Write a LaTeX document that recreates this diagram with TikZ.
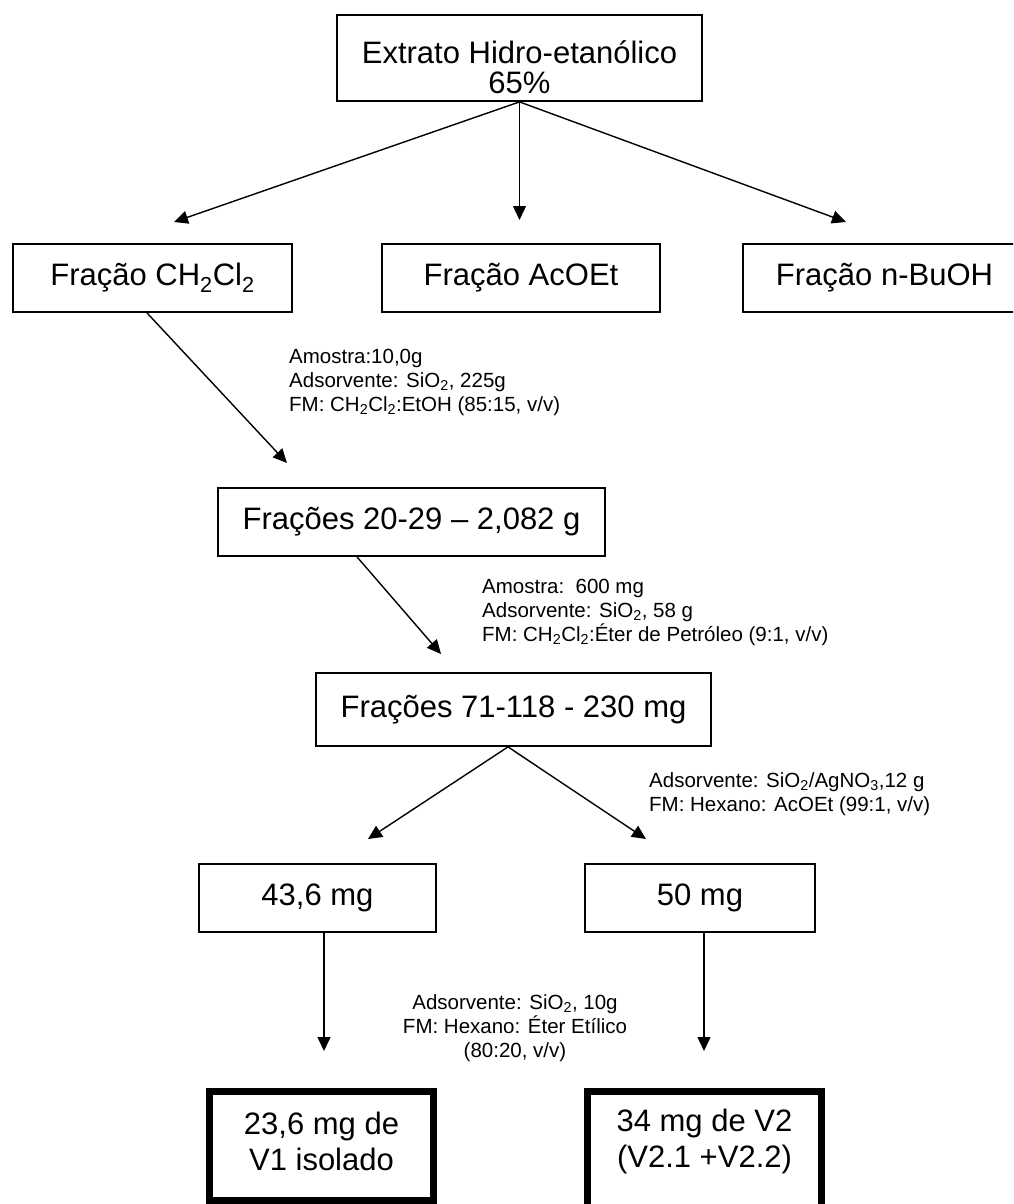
\documentclass[tikz,border=0pt]{standalone}
\usepackage{fontspec}
\setmainfont{Liberation Sans}
\usetikzlibrary{arrows.meta}
\begin{document}
\begin{tikzpicture}[x=1pt,y=-1pt,
  box/.style={draw, line width=1.8pt, inner sep=0pt, font=\fontsize{31}{30}\selectfont, align=center},
  boldbox/.style={draw, line width=7pt, inner sep=0pt},
  big/.style={font=\fontsize{31}{36}\selectfont, align=center, inner sep=0pt},
  note/.style={font=\fontsize{20.5}{24}\selectfont, inner sep=0pt},
  flow/.style={line width=1.4pt, -{Triangle[length=14pt,width=13pt]}}]
\useasboundingbox (0,0) rectangle (1013,1204);
\clip (0,0) rectangle (1013,1204);

% starting extract
\node[box, minimum width=365, minimum height=86] (top) at (519.5,58) {};
\node[big, font=\fontsize{31}{30}\selectfont] (toptxt) at (519.5,67) {Extrato Hidro-etanólico\\65\%};

% partition fractions
\node[box, minimum width=279, minimum height=68] (f1) at (152.5,278) {Fração CH\textsubscript{2}Cl\textsubscript{2}};
\node[box, minimum width=278, minimum height=68] (f2) at (521,278) {Fração AcOEt};
\node[box, minimum width=283, minimum height=68] (f3) at (884.5,278) {Fração n-BuOH};

% column chromatography fractions
\node[box, minimum width=387, minimum height=68] (f4) at (411.5,522) {Frações 20-29 – 2,082 g};
\node[box, minimum width=395, minimum height=73] (f5) at (513.5,709.5) {Frações 71-118 - 230 mg};
\node[box, minimum width=237, minimum height=68] (f6) at (317.5,898) {43,6 mg};
\node[box, minimum width=230, minimum height=68] (f7) at (700,898) {50 mg};

% isolated products
\node[boldbox, minimum width=224, minimum height=109] (r1) at (321.5,1146) {};
\node[big] (r1txt) at (321.5,1141) {23,6 mg de\\V1 isolado};
\node[boldbox, minimum width=234, minimum height=150, anchor=north] (r2) at (704.5,1087.5) {};
\node[big] (r2txt) at (704.5,1141) {34 mg de V2\\(V2.1 +V2.2)};

% arrow tips
\coordinate (tA) at (174,222);
\coordinate (tB) at (519.5,220);
\coordinate (tC) at (846,222);
\coordinate (tD) at (287,463);
\coordinate (tE) at (441,654);
\coordinate (tF) at (368,839);
\coordinate (tG) at (646,839);
\coordinate (tH) at (324,1051);
\coordinate (tI) at (704,1051);

\draw[flow] (top.south) -- (tA);
\draw[flow] (top.south) -- (tB);
\draw[flow] (top.south) -- (tC);
\draw[flow] ([xshift=-5.5]f1.south) -- (tD);
\draw[flow] ([xshift=-54.5]f4.south) -- (tE);
\draw[flow] ([xshift=-5.5]f5.south) -- (tF);
\draw[flow] ([xshift=-5.5]f5.south) -- (tG);
\draw[flow] ([xshift=6.5]f6.south) -- (tH);
\draw[flow] ([xshift=4]f7.south) -- (tI);

% separation conditions (anchored at the baseline of the last line)
\node[note, anchor=base west, align=left] (n1) at (289,411)
  {Amostra:10,0g\\Adsorvente: SiO\textsubscript{2}, 225g\\FM: CH\textsubscript{2}Cl\textsubscript{2}:EtOH (85:15, v/v)};
\node[note, anchor=base west, align=left] (n2) at (482,641)
  {Amostra:\ \ 600 mg\\Adsorvente: SiO\textsubscript{2}, 58 g\\FM: CH\textsubscript{2}Cl\textsubscript{2}:Éter de Petróleo (9:1, v/v)};
\node[note, anchor=base west, align=left] (n3) at (649,811)
  {Adsorvente: SiO\textsubscript{2}/AgNO\textsubscript{3},12 g\\FM: Hexano: AcOEt (99:1, v/v)};
\node[note, anchor=base, align=center] (n4) at (515,1057)
  {Adsorvente: SiO\textsubscript{2}, 10g\\FM: Hexano: Éter Etílico\\(80:20, v/v)};
\end{tikzpicture}
\end{document}
